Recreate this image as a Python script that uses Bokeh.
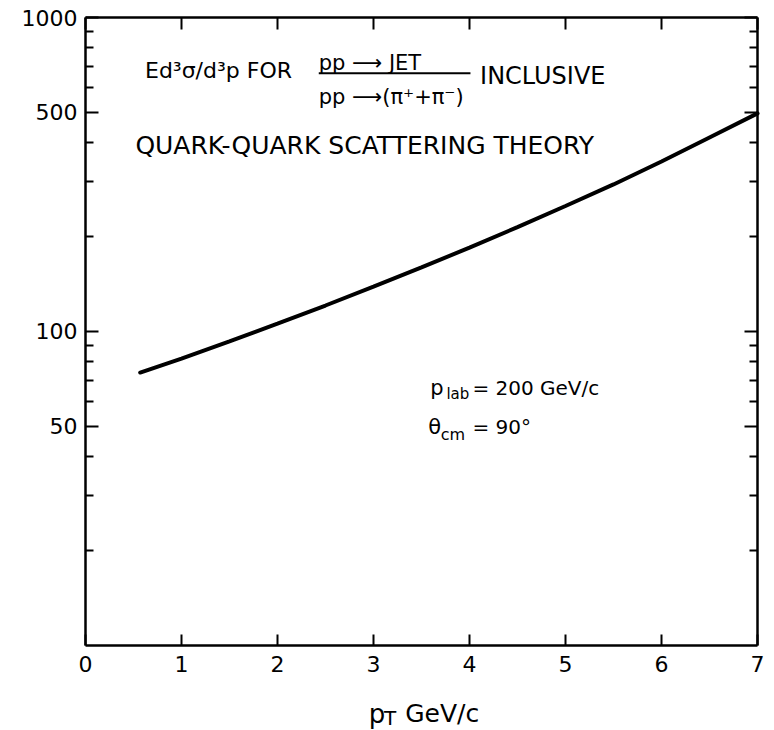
from bokeh.plotting import figure
from bokeh.models import (FixedTicker, LinearAxis, LogAxis, Label, ColumnDataSource)
from bokeh.embed import file_html
from bokeh.resources import INLINE

# ---- data ----
pt = [0.57, 1.0, 1.5, 2.0, 2.5, 3.0, 3.5, 4.0, 4.5, 5.0, 5.5, 6.0, 6.5, 7.0]
ratio = [74, 82, 93, 106, 121, 139, 160, 185, 215, 251, 294, 348, 415, 495]

x_ticks = [0, 1, 2, 3, 4, 5, 6, 7]
y_major = [50, 100, 500, 1000]
y_minor = [20, 30, 40, 60, 70, 80, 90, 200, 300, 400, 600, 700, 800, 900]
y_labels = {50: "50", 100: "100", 500: "500", 1000: "1000"}
x_axis_bounds = (0, 7)
y_axis_bounds = (10, 1000)

FONT = "DejaVu Sans"

# The frame covers the whole canvas; the box of axes is drawn at fixed
# locations inside it, so tick labels and the axis title are not clipped.
p = figure(frame_width=772, frame_height=730,
           x_range=(-0.885, 7.156), y_range=(5.36, 1133), y_axis_type="log",
           output_backend="svg", toolbar_location=None,
           min_border_left=0, min_border_right=0,
           min_border_top=0, min_border_bottom=0,
           background_fill_color="white", border_fill_color="white",
           outline_line_color=None)
p.grid.visible = False

def style_axis(ax, labels=True):
    ax.axis_line_width = 2.5
    ax.axis_line_color = "black"
    ax.major_tick_in = 12
    ax.major_tick_out = 0
    ax.major_tick_line_width = 2
    ax.minor_tick_in = 8
    ax.minor_tick_out = 0
    ax.minor_tick_line_width = 2
    if labels:
        ax.major_label_text_font = FONT
        ax.major_label_text_font_size = "22px"
        ax.major_label_text_color = "black"
    else:
        ax.major_label_text_color = None
        ax.major_label_text_alpha = 0

# bottom x axis, drawn at y = 10
xb = p.xaxis[0]
xb.ticker = FixedTicker(ticks=x_ticks)
xb.fixed_location = 10
xb.bounds = x_axis_bounds
style_axis(xb)
xb.major_tick_in = 11
xb.major_label_standoff = 11

# left y axis, drawn at x = 0
yl = p.yaxis[0]
yl.ticker = FixedTicker(ticks=y_major, minor_ticks=y_minor)
yl.major_label_overrides = y_labels
yl.fixed_location = 0
yl.bounds = y_axis_bounds
style_axis(yl)
yl.major_tick_in = 13
yl.major_label_standoff = 8

# top and right frame axes (ticks only)
xt = LinearAxis(ticker=FixedTicker(ticks=x_ticks), fixed_location=1000,
                bounds=x_axis_bounds)
style_axis(xt, labels=False)
p.add_layout(xt, "above")
yr = LogAxis(ticker=FixedTicker(ticks=y_major, minor_ticks=y_minor),
             fixed_location=7, bounds=y_axis_bounds)
style_axis(yr, labels=False)
yr.major_tick_in = 13
p.add_layout(yr, "right")

# curve
src = ColumnDataSource(dict(x=pt, y=ratio))
p.line("x", "y", source=src, line_width=4, line_color="black", line_cap="round")

# ---- annotation texts ----
def lab(x, y, text, size, baseline="alphabetic"):
    p.add_layout(Label(x=x, y=y, text=text, text_font=FONT,
                       text_font_size=size, text_color="black",
                       text_baseline=baseline, text_align="left"))

lab(0.62, 678, "Ed³σ/d³p FOR", "22px", "middle")
lab(2.43, 714, "pp ⟶ JET", "21px")
p.segment(x0=[2.43], y0=[665], x1=[4.01], y1=[665], line_width=2, line_color="black")
lab(2.43, 560, "pp ⟶(π⁺+π⁻)", "21px")
lab(4.11, 653, "INCLUSIVE", "24px", "middle")
lab(0.52, 390, "QUARK-QUARK SCATTERING THEORY", "25px", "middle")

lab(3.59, 65.9, "p", "21px")
lab(3.76, 63.0, "lab", "15px")
lab(4.03, 65.9, "= 200 GeV/c", "20px")
lab(3.57, 49.8, "θ", "21px")
lab(3.70, 47.0, "cm", "16px")
lab(4.03, 49.8, "= 90°", "20px")

# x axis title
lab(2.95, 6.07, "p", "26px")
lab(3.11, 5.86, "T", "20px")
lab(3.33, 6.07, "GeV/c", "25px")

open("out.html", "w").write(file_html(p, INLINE))
